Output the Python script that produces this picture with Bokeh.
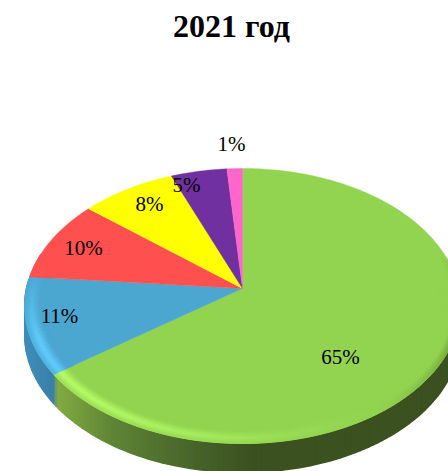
import math
from bokeh.plotting import figure
from bokeh.models import Range1d
from bokeh.core.properties import value
from bokeh.embed import file_html
from bokeh.resources import INLINE

categories = ["A", "B", "C", "D", "E", "F"]
shares = [65, 11.4, 9.6, 8, 4.7, 1.3]
labels = ["65%", "11%", "10%", "8%", "5%", "1%"]
colors = ["#92D350", "#4BA6D0", "#FF5050", "#FFFF00", "#7030A0", "#FF66CC"]
label_x = [340, 59, 83, 149, 186, 231]
label_y = [356, 315, 247, 203, 184, 143]
title = "2021 год"

CX, CY = 242, 288
A, B, K = 216.0, 135.3, 0.127
DEPTH = 29

def proj(theta, r=1.0):
    u, v = r * math.sin(theta), r * math.cos(theta)
    d = 1 + K * v
    return CX + A * u / d, CY - B * v / d

def rgb(h):
    return [int(h[i:i + 2], 16) for i in (1, 3, 5)]

def mix(c, t, f):
    return "#%02x%02x%02x" % tuple(int(round(a + (b - a) * f)) for a, b in zip(c, t))

def shade(c, theta, r):
    # light comes from the front-left, the far edge stays flat
    front = max(0.0, min(1.0, (0.25 - math.cos(theta)) / 0.6))
    prof = max(0.0, 1 - abs(r - 0.97) / 0.04)
    edge = max(0.0, (r - 0.965) / 0.035)
    light = math.cos(theta - math.radians(235))
    bright = [min(255, int(v * 1.2) + 8) for v in c]
    if light > 0:
        return mix(c, bright, light ** 1.5 * prof * front)
    return mix(c, [70, 95, 40], 0.7 * (-light) * edge * front)

p = figure(width=448, height=471, output_backend="svg", toolbar_location=None,
           x_range=Range1d(0, 448), y_range=Range1d(471, 0), min_border=0)
p.axis.visible = False
p.grid.visible = False
p.outline_line_color = None

# slice angles
edges = [0.0]
for s in shares:
    edges.append(edges[-1] + s / sum(shares) * 2 * math.pi)

# side wall
side_stops = [(27, "#3D8DB8"), (54, "#3A7FA6"), (55, "#83AC42"), (110, "#5F8535"),
              (190, "#48652A"), (250, "#3C5120"), (448, "#3C5120")]
def side_color(x):
    for (x0, c0), (x1, c1) in zip(side_stops, side_stops[1:]):
        if x <= x1:
            f = max(0.0, (x - x0) / max(1, x1 - x0))
            return mix(rgb(c0), rgb(c1), f)
    return side_stops[-1][1]

n = 150
t0, t1 = math.radians(80), math.radians(274)
xs, ys, cs = [], [], []
for i in range(n):
    a = t0 + (t1 - t0) * i / n
    b = t0 + (t1 - t0) * (i + 1) / n
    (x1, y1), (x2, y2) = proj(a), proj(b)
    xs.append([x1, x2, x2, x1])
    ys.append([y1, y2, y2 + DEPTH, y1 + DEPTH])
    cs.append(side_color((x1 + x2) / 2))
p.patches(xs, ys, fill_color=cs, line_color=cs, line_width=1.5)

# flat faces
for s0, s1, c in zip(edges, edges[1:], colors):
    m = max(3, int((s1 - s0) * 60))
    pts = [proj(s0 + (s1 - s0) * j / m) for j in range(m + 1)]
    p.patch([CX] + [q[0] for q in pts], [CY] + [q[1] for q in pts], fill_color=c, line_color=c, line_width=0.4)

# rounded rim
rings = [0.90 + 0.01 * i for i in range(11)]
xs, ys, cs = [], [], []
for s0, s1, c in zip(edges, edges[1:], colors):
    base = rgb(c)
    m = max(2, int((s1 - s0) * 40))
    for j in range(m):
        a = s0 + (s1 - s0) * j / m
        b = s0 + (s1 - s0) * (j + 1) / m
        if math.cos((a + b) / 2) > 0.25:
            continue
        for r0, r1 in zip(rings, rings[1:]):
            q = [proj(a, r0), proj(b, r0), proj(b, r1), proj(a, r1)]
            xs.append([w[0] for w in q])
            ys.append([w[1] for w in q])
            cs.append(shade(base, (a + b) / 2, (r0 + r1) / 2))
p.patches(xs, ys, fill_color=cs, line_color=cs, line_width=1.0)

p.text(label_x, label_y, text=labels, text_font=value("Liberation Serif"), text_font_size="21px",
       text_color="#000000", text_align="center", text_baseline="middle")
p.text([231], [25], text=[title], text_font=value("Liberation Serif"), text_font_size="32px",
       text_font_style="bold", text_color="#000000", text_align="center", text_baseline="middle")

open("out.html", "w").write(file_html(p, INLINE))
